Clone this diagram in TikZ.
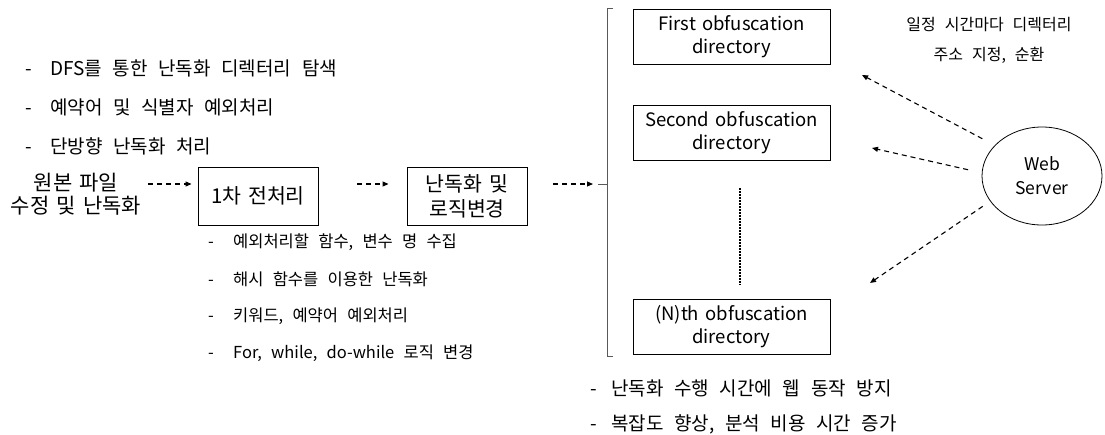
\documentclass[tikz,border=0pt]{standalone}
\usepackage{fontspec}
\setmainfont{Noto Sans CJK KR}[WordSpace=1.5]
\newfontfamily\batang{Noto Sans CJK KR}[WordSpace=2.5]
\usetikzlibrary{arrows.meta,shapes.geometric}
\begin{document}
\begin{tikzpicture}[x=1pt,y=-1pt,
  box/.style={draw,line width=0.9pt,inner sep=0pt,minimum width=120pt,minimum height=58pt,align=center,font=\fontsize{20.5}{25}\selectfont},
  dirbox/.style={draw,line width=0.9pt,inner sep=0pt,minimum width=197pt,minimum height=55pt,align=center,font=\fontsize{18.5}{23}\selectfont},
  itemA/.style={anchor=west,inner sep=0pt,font=\batang\fontsize{19}{22}\selectfont},
  itemB/.style={anchor=west,inner sep=0pt,font=\batang\fontsize{16.5}{20}\selectfont},
  arr/.style={dash pattern=on 5pt off 4pt,line width=1.1pt,-{Triangle[length=6pt,width=5pt]}},
  brk/.style={draw=black!65,line width=1pt},
]
\fill[white] (0,0) rectangle (1105,434);
% top-left list
\node[itemA] (l1) at (25,68) {\makebox[25pt][l]{-}DFS를 통한 난독화 디렉터리 탐색};
\node[itemA] (l2) at (25,107) {\makebox[25pt][l]{-}예약어 및 식별자 예외처리};
\node[itemA] (l3) at (25,146) {\makebox[25pt][l]{-}단방향 난독화 처리};
% source
\node[align=center,inner sep=0pt,font=\fontsize{21}{23}\selectfont] (src) at (76,194) {원본 파일\\수정 및 난독화};
% boxes
\node[box] (b1) at (258,196) {1차 전처리};
\node[box] (b2) at (467,196) {난독화 및\\로직변경};
\draw[arr] ([xshift=7pt,yshift=10pt]src.east) -- ([xshift=-6pt,yshift=12pt]b1.west);
\draw[arr] ([xshift=39pt,yshift=12pt]b1.east) -- ([xshift=-18pt,yshift=12pt]b2.west);
% lower list
\node[itemB] (m1) at (208,242) {\makebox[25pt][l]{-}예외처리할 함수, 변수 명 수집};
\node[itemB] (m2) at (208,279) {\makebox[25pt][l]{-}해시 함수를 이용한 난독화};
\node[itemB] (m3) at (208,316) {\makebox[25pt][l]{-}키워드, 예약어 예외처리};
\node[itemB] (m4) at (208,353) {\makebox[25pt][l]{-}For, while, do-while 로직 변경};
% bracket
\coordinate (bt) at (613,8);
\coordinate (bb) at (613,356);
\coordinate (bm) at (607,184);
\coordinate (bin) at (593,184);
\draw[brk] (bt) -- (607,8) -- (607,356) -- (bb);
\draw[brk] (bm) -- ++(-9,0);
\draw[arr] ([xshift=26pt,yshift=12pt]b2.east) -- (bin);
% directories
\node[dirbox] (d1) at (731.5,36.5) {First obfuscation\\directory};
\node[dirbox] (d2) at (731.5,133) {Second obfuscation\\directory};
\node[dirbox] (dn) at (731.5,327) {(N)th obfuscation\\directory};
\coordinate (dt) at (740,188);
\coordinate (db) at (740,285);
\draw[dash pattern=on 1.6pt off 1.4pt,line width=2pt] (dt) -- (db);
% web server
\node[draw,ellipse,line width=0.8pt,minimum width=120pt,minimum height=98pt,inner sep=0pt,align=center,font=\fontsize{17.5}{24}\selectfont] (web) at (1042,176) {Web\\Server};
\coordinate (e1) at (862,75);
\coordinate (e2) at (872,148);
\coordinate (e3) at (870,283);
\draw[arr,shorten <=14pt] (web.147) -- (e1);
\draw[arr,shorten <=14pt] (web.177) -- (e2);
\draw[arr,shorten <=9pt] (web.206) -- (e3);
\node[align=center,inner sep=0pt,font=\batang\fontsize{16}{30}\selectfont] (note) at (989,40) {일정 시간마다 디렉터리\\주소 지정, 순환};
% bottom-right list
\node[itemA] (r1) at (590,388) {\makebox[21pt][l]{-}난독화 수행 시간에 웹 동작 방지};
\node[itemA] (r2) at (590,424) {\makebox[21pt][l]{-}복잡도 향상, 분석 비용 시간 증가};
\end{tikzpicture}
\end{document}
